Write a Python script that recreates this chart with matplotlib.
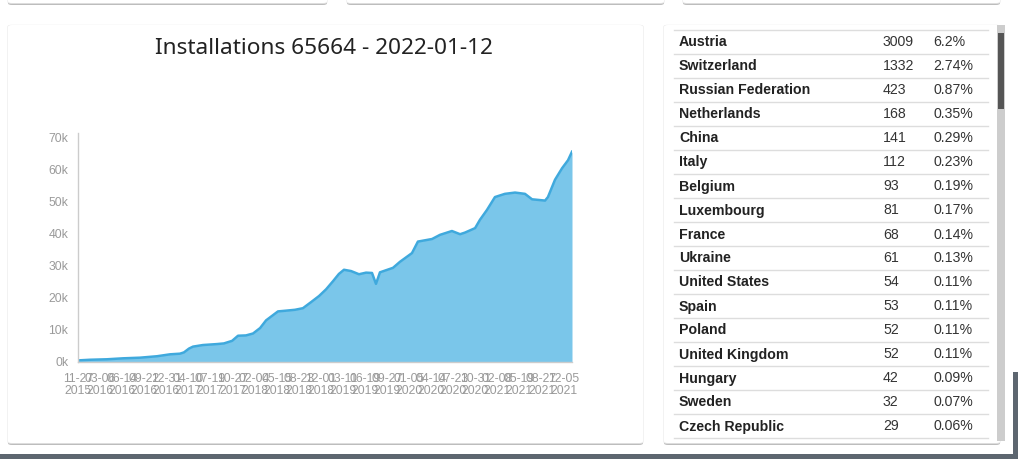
import matplotlib
matplotlib.use('Agg')
import matplotlib.pyplot as plt
from matplotlib.patches import FancyBboxPatch, Rectangle
from matplotlib.lines import Line2D
import pandas as pd

# ---------------- data ----------------
dates = ['2015-11-27', '2016-01-20', '2016-04-06', '2016-06-18', '2016-09-03',
         '2016-11-19', '2017-01-17', '2017-03-03', '2017-03-21', '2017-04-13',
         '2017-05-01', '2017-06-15', '2017-08-18', '2017-09-18', '2017-10-25',
         '2017-11-21', '2017-12-27', '2018-01-28', '2018-03-01', '2018-03-28',
         '2018-04-24', '2018-05-21', '2018-06-22', '2018-08-06', '2018-09-11',
         '2018-10-18', '2018-11-23', '2018-12-25', '2019-01-25', '2019-02-21',
         '2019-03-16', '2019-04-17', '2019-05-23', '2019-06-24', '2019-07-21',
         '2019-08-08', '2019-08-26', '2019-10-24', '2019-11-25', '2020-01-18',
         '2020-02-14', '2020-04-18', '2020-05-24', '2020-07-17', '2020-08-23',
         '2020-09-14', '2020-10-30', '2020-11-21', '2020-12-23', '2021-01-28',
         '2021-03-14', '2021-04-29', '2021-06-13', '2021-07-15', '2021-09-12',
         '2021-09-25', '2021-10-27', '2021-11-28', '2021-12-25', '2022-01-12']
installs = [500, 700, 850, 1150, 1350,
            1800, 2400, 2600, 3000, 4200,
            4800, 5300, 5600, 5800, 6600,
            8200, 8300, 8900, 10600, 13000,
            14400, 15800, 16000, 16300, 16800,
            18700, 20600, 22700, 25200, 27500,
            28800, 28400, 27400, 27900, 27800,
            24400, 28000, 29400, 31300, 34000,
            37600, 38400, 39700, 40900, 39900,
            40400, 41800, 44400, 47500, 51500,
            52500, 52900, 52500, 50800, 50400,
            51500, 56900, 60500, 63000, 65664]

tick_dates = ['2015-11-27', '2016-03-06', '2016-06-14', '2016-09-22', '2016-12-31',
              '2017-04-10', '2017-07-19', '2017-10-27', '2018-02-04', '2018-05-15',
              '2018-08-23', '2018-12-01', '2019-03-11', '2019-06-19', '2019-09-27',
              '2020-01-05', '2020-04-14', '2020-07-23', '2020-10-31', '2021-02-08',
              '2021-05-19', '2021-08-27', '2021-12-05']
tick_labels = [d[5:] + '\n' + d[:4] for d in tick_dates]

y_ticks = [0, 10000, 20000, 30000, 40000, 50000, 60000, 70000]
y_labels = ['0k', '10k', '20k', '30k', '40k', '50k', '60k', '70k']

title = 'Installations 65664 - 2022-01-12'

countries = ['Austria', 'Switzerland', 'Russian Federation', 'Netherlands', 'China',
             'Italy', 'Belgium', 'Luxembourg', 'France', 'Ukraine', 'United States',
             'Spain', 'Poland', 'United Kingdom', 'Hungary', 'Sweden', 'Czech Republic']
counts = [3009, 1332, 423, 168, 141, 112, 93, 81, 68, 61, 54, 53, 52, 52, 42, 32, 29]
percents = ['6.2%', '2.74%', '0.87%', '0.35%', '0.29%', '0.23%', '0.19%', '0.17%',
            '0.14%', '0.13%', '0.11%', '0.11%', '0.11%', '0.11%', '0.09%', '0.07%', '0.06%']

# ---------------- layout helpers ----------------
W, H = 1018, 459
fig = plt.figure(figsize=(W / 100, H / 100), dpi=100)
fig.patch.set_facecolor('white')


def fx(x):
    return x / W


def fy(y):
    return 1 - y / H


def card(x0, y0, x1, y1):
    sh = FancyBboxPatch((fx(x0), fy(y1 + 2)), fx(x1 - x0), (y1 - y0) / H,
                        boxstyle='round,pad=0,rounding_size=0.004',
                        transform=fig.transFigure, facecolor='#bdbdbd',
                        edgecolor='none', zorder=0)
    fig.patches.append(sh)
    sh2 = FancyBboxPatch((fx(x0 - 0.5), fy(y1 + 0.8)), fx(x1 - x0 + 1), (y1 - y0 + 1) / H,
                         boxstyle='round,pad=0,rounding_size=0.004',
                         transform=fig.transFigure, facecolor='#e6e6e6',
                         edgecolor='none', zorder=0.5)
    fig.patches.append(sh2)
    c = FancyBboxPatch((fx(x0), fy(y1)), fx(x1 - x0), (y1 - y0) / H,
                       boxstyle='round,pad=0,rounding_size=0.004',
                       transform=fig.transFigure, facecolor='white',
                       edgecolor='none', zorder=1)
    fig.patches.append(c)


# top cards (only bottoms visible)
card(8, -20, 327, 3)
card(347, -20, 664, 3)
card(683, -20, 1000, 3)
# chart card
card(8, 25, 643, 443)
# table card
card(664, 25, 1000, 443)

# bottom dark band
fig.patches.append(Rectangle((0, 0), 1, (H - 454) / H, transform=fig.transFigure,
                             facecolor='#5d6670', edgecolor='none', zorder=2))
# right dark edge
fig.patches.append(Rectangle((fx(1013), 0), fx(5), (H - 372) / H, transform=fig.transFigure,
                             facecolor='#5d6670', edgecolor='none', zorder=2))
# scrollbar
fig.patches.append(Rectangle((fx(997), fy(441)), fx(8), (441 - 25) / H, transform=fig.transFigure,
                             facecolor='#cdcdcd', edgecolor='none', zorder=3))
fig.patches.append(Rectangle((fx(998), fy(109)), fx(6), (109 - 33) / H, transform=fig.transFigure,
                             facecolor='#555555', edgecolor='none', zorder=4))

# ---------------- chart ----------------
fig.text(fx(324), fy(48), title, ha='center', va='center', fontsize=16.3,
         family='Noto Sans', color='#222222', zorder=5)

ax = fig.add_axes([fx(78), fy(362), fx(572 - 78), (362 - 133) / H], zorder=5)
ax.set_facecolor('none')
xd = pd.to_datetime(dates)
ax.fill_between(xd, installs, 0, color='#7ac6ea', linewidth=0)
ax.plot(xd, installs, color='#3fa9dd', linewidth=1.8, solid_joinstyle='round')
ax.set_xlim(pd.Timestamp('2015-11-27'), pd.Timestamp('2022-01-12'))
ax.set_ylim(0, 71500)
ax.set_yticks(y_ticks)
ax.set_yticklabels(y_labels)
ax.set_xticks(pd.to_datetime(tick_dates))
ax.set_xticklabels(tick_labels, linespacing=1.0)
ax.tick_params(axis='both', length=0, labelsize=8.8)
ax.tick_params(axis='y', pad=7)
ax.tick_params(axis='x', pad=8)
for lab in ax.get_xticklabels() + ax.get_yticklabels():
    lab.set_family('Liberation Sans')
    lab.set_color('#9a9a9a')
for s in ['top', 'right']:
    ax.spines[s].set_visible(False)
ax.spines['left'].set_color('#cccccc')
ax.spines['bottom'].set_color('#cccccc')
ax.spines['left'].set_linewidth(1)
ax.spines['bottom'].set_linewidth(1)

# ---------------- table ----------------
row0 = 30
rh = 24
for i in range(len(countries) + 1):
    y = row0 + i * rh
    fig.lines.append(Line2D([fx(674), fx(988)], [fy(y), fy(y)], transform=fig.transFigure,
                            color='#dddddd', linewidth=1, zorder=6))
for i, (c, n, p) in enumerate(zip(countries, counts, percents)):
    yc = row0 + i * rh + rh / 2 + 0.5
    fig.text(fx(679), fy(yc), c, ha='left', va='center', fontsize=10.2,
             family='Liberation Sans', weight='bold', color='#222222', zorder=7)
    fig.text(fx(883), fy(yc), str(n), ha='left', va='center', fontsize=10.2,
             family='Liberation Sans', color='#333333', zorder=7)
    fig.text(fx(933), fy(yc), p, ha='left', va='center', fontsize=10.2,
             family='Liberation Sans', color='#333333', zorder=7)

fig.savefig('out.png', dpi=100, facecolor=fig.get_facecolor())
